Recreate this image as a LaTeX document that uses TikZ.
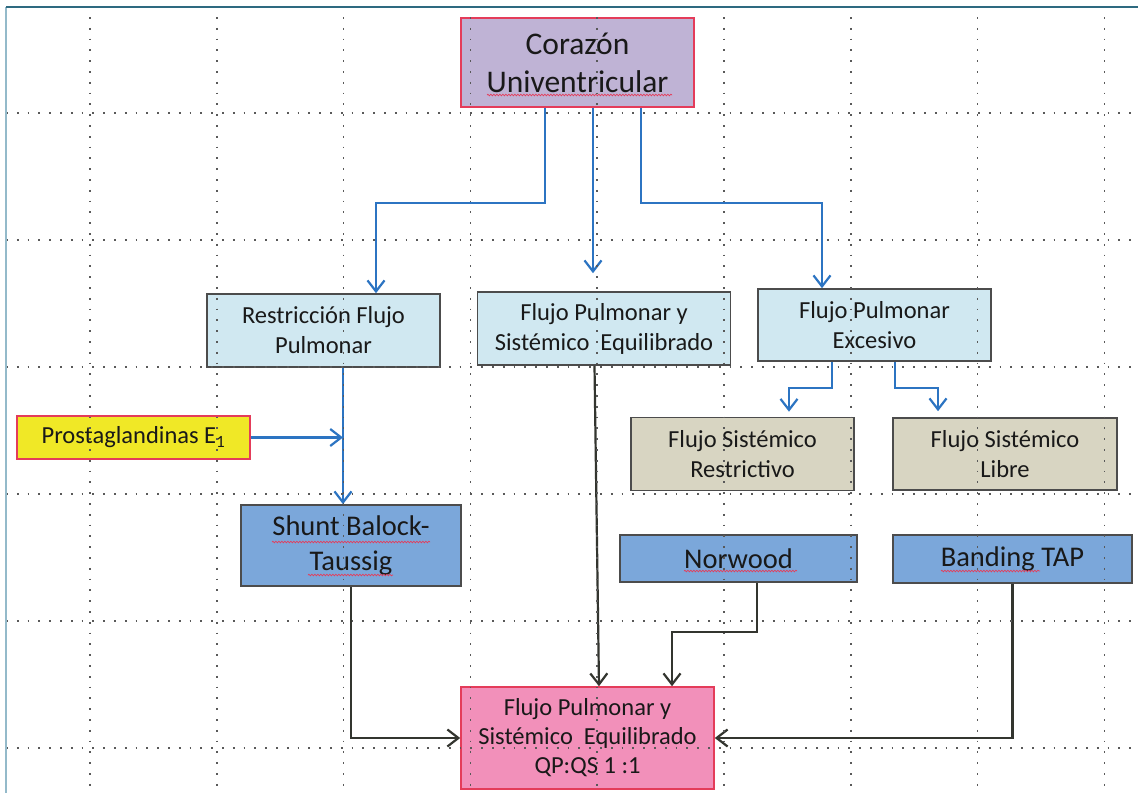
\documentclass[tikz,border=0pt]{standalone}
\usepackage{fontspec}
\setmainfont{Carlito}
\usepackage{tikz}
\usetikzlibrary{positioning}
\usetikzlibrary{calc}
\usetikzlibrary{arrows.meta}
\usetikzlibrary{decorations.pathmorphing}
\definecolor{lila}{HTML}{BFB3D5}
\definecolor{celeste}{HTML}{D0E8F1}
\definecolor{beige}{HTML}{D8D5C2}
\definecolor{azul}{HTML}{7BA7DA}
\definecolor{amarillo}{HTML}{F0E826}
\definecolor{rosa}{HTML}{F290BA}
\definecolor{rojo}{HTML}{E43C5A}
\definecolor{flecha}{HTML}{2C74C2}
\definecolor{oscuro}{HTML}{33352F}
\definecolor{marco}{HTML}{2E6A80}
\definecolor{marcoclaro}{HTML}{94BACA}
\tikzset{every picture/.style={line width=1pt},
  caja/.style={draw=black!70,line width=1.6pt,align=center,inner sep=0pt,text=black!90},
  texto/.style={font=\fontsize{24.5}{30}\selectfont},
  grande/.style={font=\fontsize{28.5}{35}\selectfont},
  azularr/.style={draw=flecha,line width=2.2pt,-{Straight Barb[length=11pt,width=17pt]}},
  negroarr/.style={draw=oscuro,line width=2.2pt,-{Straight Barb[length=11pt,width=17pt]}},
  gridline/.style={draw=black!65,line width=1.7pt,dash pattern=on 1.7pt off 9.1pt},
  ondas/.style={draw=rojo,line width=0.7pt,decorate,decoration={snake,amplitude=0.8pt,segment length=3pt}}}

\begin{document}
\begin{tikzpicture}[x=1pt,y=-1pt]
\useasboundingbox (0,0) rectangle (1138,793);
\fill[white] (0,0) rectangle (1138,793);

\node (cor) at (577.5,62.5) [caja,fill=lila,draw=rojo,minimum width=233pt,minimum height=89pt,font=\fontsize{31.5}{38}\selectfont] {Corazón\\Univentricular};
\node (rest) at (323.5,330.5) [caja,texto,fill=celeste,minimum width=233pt,minimum height=73pt] {Restricción Flujo\\Pulmonar};
\node (equi) at (604,328.5) [caja,texto,fill=celeste,minimum width=253pt,minimum height=73pt] {Flujo Pulmonar y\\Sistémico\ \ Equilibrado};
\node (exc) at (874.5,325) [caja,texto,fill=celeste,minimum width=233pt,minimum height=72pt] {Flujo Pulmonar\\Excesivo};
\node (prost) at (133.5,437.5) [caja,texto,fill=amarillo,draw=rojo,minimum width=233pt,minimum height=43pt] {Prostaglandinas E\textsubscript{1}};
\node (sres) at (742.5,454) [caja,texto,fill=beige,minimum width=223pt,minimum height=73pt] {Flujo Sistémico\\Restrictivo};
\node (slib) at (1005,454) [caja,texto,fill=beige,minimum width=224pt,minimum height=72pt] {Flujo Sistémico\\Libre};
\node (shunt) at (351,545.5) [caja,grande,fill=azul,minimum width=220pt,minimum height=81pt] {Shunt Balock-\\Taussig};
\node (norw) at (738.5,558.5) [caja,grande,fill=azul,minimum width=237pt,minimum height=47pt] {Norwood};
\node (band) at (1012.5,559) [caja,grande,fill=azul,minimum width=239pt,minimum height=48pt] {Banding TAP};
\node (qp) at (587.5,738) [caja,texto,fill=rosa,draw=rojo,minimum width=253pt,minimum height=102pt,font=\fontsize{24.5}{29}\selectfont] {Flujo Pulmonar y\\Sistémico\ \ Equilibrado\\QP:QS 1 :1};

\coordinate (restout) at ([xshift=19.5pt]rest.south);
\draw[azularr] ([xshift=-32.5pt]cor.south) -- ++(0,95) -| ([xshift=52.5pt]rest.north);
\draw[azularr] ([xshift=15.5pt]cor.south) -- ([xshift=15.5pt,yshift=18pt]cor.south |- equi.north);
\draw[azularr] ([xshift=63.5pt]cor.south) -- ++(0,95) -| ([xshift=-52.5pt]exc.north);
\draw[azularr] (restout) -- (restout |- shunt.north);
\draw[azularr] (prost.east) -- (prost.east -| restout);
\draw[azularr] ([xshift=-42.5pt]exc.south) -- ++(0,26) -| ([xshift=46.5pt,yshift=5pt]sres.north);
\draw[azularr] ([xshift=20.5pt]exc.south) -- ++(0,26) -| ([xshift=-67pt,yshift=6pt]slib.north);
\draw[negroarr] ([xshift=-9.5pt]equi.south) -- ([xshift=11.5pt]qp.north);
\draw[negroarr] ([xshift=18.5pt]norw.south) -- ++(0,49) -| ([xshift=84.5pt]qp.north);
\draw[negroarr] (shunt.south) |- (qp.west);
\draw[negroarr] (band.south) |- (qp.east);

\draw[ondas] (487,95) -- (672,95);
\draw[ondas] (272,542) -- (430,542);
\draw[ondas] (308,575) -- (393,575);
\draw[ondas] (684,571) -- (797,571);
\draw[ondas] (941,571) -- (1040,571);

\foreach \gx in {0,...,8}
  \draw[gridline] ({90+126.8*\gx},17) -- ({90+126.8*\gx},793);
\foreach \gy in {0,...,5}
  \draw[gridline] (6,{113+127*\gy}) -- (1138,{113+127*\gy});
\draw[marcoclaro,line width=1.6pt] (6,7) -- (6,793);
\draw[marco,line width=1.6pt] (6,7) -- (1138,7);
\end{tikzpicture}
\end{document}
